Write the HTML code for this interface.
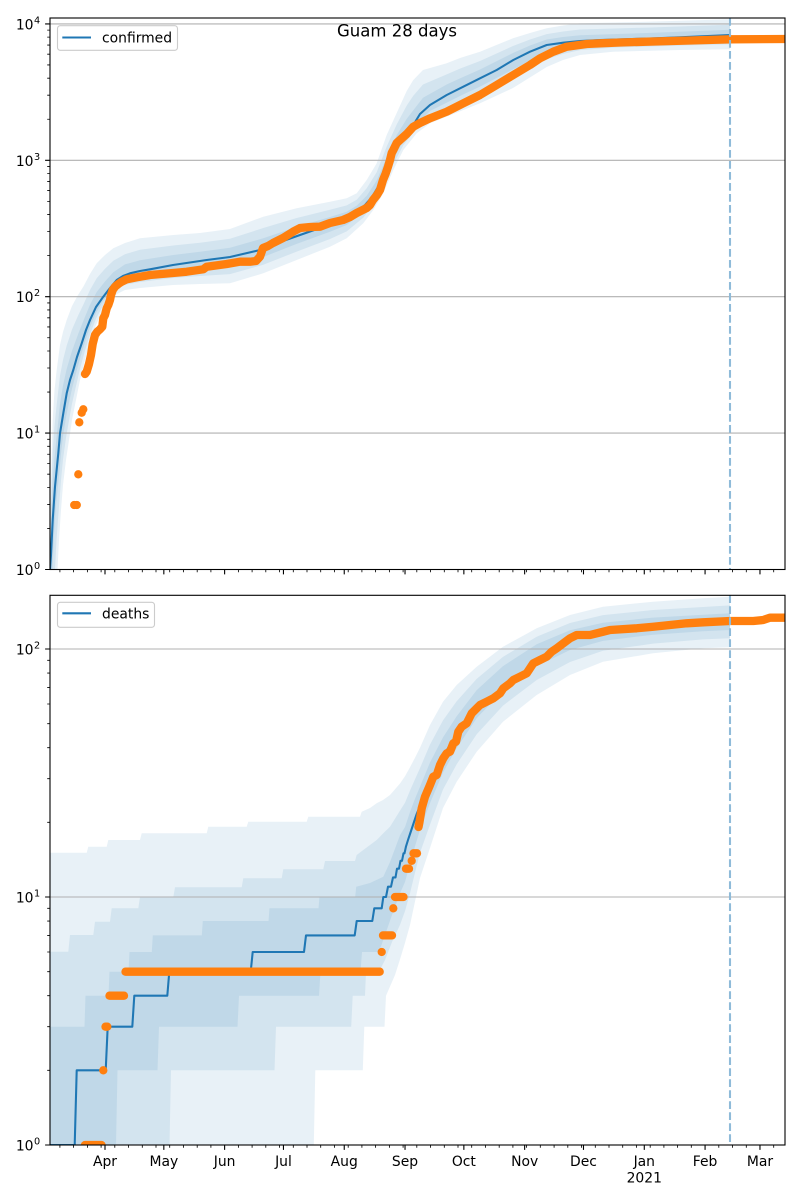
<!DOCTYPE html>
<html><head><meta charset="utf-8"><style>
html,body{margin:0;padding:0;background:#fff;}
svg{display:block;}
text{font-family:"DejaVu Sans","Liberation Sans",sans-serif;fill:#000;}
</style></head><body>
<svg width="800" height="1200" viewBox="0 0 800 1200" xmlns="http://www.w3.org/2000/svg">
<defs>
<clipPath id="ct"><rect x="50" y="18" width="735" height="551.5"/></clipPath>
<clipPath id="cb"><rect x="50" y="595.3" width="735" height="549.7"/></clipPath>
</defs>
<rect width="800" height="1200" fill="#fff"/>

<!-- ================= TOP PANEL ================= -->
<g clip-path="url(#ct)">
<g fill="#1f77b4" fill-opacity="0.1" stroke="none">
<polygon points="50,569.5 51,480 52.7,420 54.5,390 56.7,370 60,345 63,332 66.7,320 72,306 78,295 83.3,286.7 90,274 96.7,263.3 105,255 113.3,248.3 125,243 140,238.3 173.3,235 200,233 230,229 263.3,216.7 296.7,208.3 330,201.7 346.7,198.3 356.7,193.3 366.7,180 376.7,163.3 386.7,135 396.7,113 406.7,91 413.3,80 423,70 446.7,63.3 460,58 480,51.7 513,38.3 530,33 546.7,28.3 563,25.5 580,23.3 646.7,21.7 730,19.3 730,49.3 680,50 613,51.7 580,55 563,60 546.7,67 513,88 480,103.3 463.3,110 430,123.3 416.7,133.3 403.3,150 393.3,170 383.3,193.3 373.3,210 363.3,223.3 346.7,238.3 330,246.7 296.7,260 263.3,273.3 230,283.3 200,284 173,285 140,288 125,290 117,294 110,300 103,310 96,325 90,342 85,360 80,380 76,400 72,420 69,440 66,460 63,485 61,510 59,540 57.5,569.5"/>
<polygon points="50,569.5 51,502.8 52.7,451.9 54.5,425.5 56.7,404.3 60,375.8 63,360 66.7,345.6 72,329.5 78,315.7 83.3,304.7 90,290 96.7,278.3 105,268.8 113.3,260.8 125,254.2 140,249.7 173.3,245.5 200,242.8 230,238.8 263.3,228 296.7,218 330,209.7 346.7,205.4 356.7,199.7 366.7,188.3 376.7,172.3 386.7,146.5 396.7,124.5 406.7,105.6 413.3,95.8 423,84.5 446.7,74.4 460,68.6 480,61 513,46 530,39.5 546.7,34.1 563,31.5 580,29.5 646.7,27.6 730,24.8 730,44.3 680,45.6 613,47.6 580,50.1 563,53.9 546.7,59.3 513,78.3 480,94.6 463.3,101.8 430,116.9 416.7,128.5 403.3,145.3 393.3,164.2 383.3,187.4 373.3,204.8 363.3,217.6 346.7,231.4 330,239 296.7,251.6 263.3,264.8 230,274.1 200,276 173,278 140,282 125,284.8 117,289 110,295.8 103,305.5 96,318.7 90,334.3 85,350.6 80,368.8 76,386 72,403.7 69,420.4 66,437.8 63,459.5 61,480.6 59,506.4 56.5,540 55,569.5"/>
<polygon points="50,569.5 51,523.6 52.7,481 54.5,458 56.7,435.7 60,404 63,385.6 66.7,368.9 72,350.9 78,334.5 83.3,321 90,304.8 96.7,292 105,281.5 113.3,272.2 125,264.4 140,260.2 173.3,255 200,251.8 230,247.8 263.3,238.3 296.7,226.9 330,217 346.7,211.8 356.7,205.6 366.7,195.8 376.7,180.5 386.7,157.1 396.7,135.1 406.7,118.9 413.3,110.2 423,97.7 446.7,84.5 460,78.4 480,69.5 513,53 530,45.5 546.7,39.5 563,37 580,35.2 646.7,33 730,29.8 730,39.7 680,41.5 613,43.9 580,45.6 563,48.4 546.7,52.3 513,69.4 480,86.6 463.3,94.4 430,111 416.7,124 403.3,141 393.3,159 383.3,182 373.3,200 363.3,212.4 346.7,225 330,231.8 296.7,243.9 263.3,257 230,265.7 200,268.6 173,271.6 140,276.6 125,280 117,284.6 110,292 103,301.3 96,312.9 90,327.3 85,341.9 80,358.6 76,373.2 72,388.7 69,402.5 66,417.5 63,436.1 61,453.7 59,475.7 56,505 54,535 52.5,569.5"/>
</g>
<g stroke="#b0b0b0" stroke-width="1.1">
<line x1="50" y1="23.9" x2="785" y2="23.9"/>
<line x1="50" y1="160.3" x2="785" y2="160.3"/>
<line x1="50" y1="296.7" x2="785" y2="296.7"/>
<line x1="50" y1="433.1" x2="785" y2="433.1"/>
</g>
<polyline fill="none" stroke="#1f77b4" stroke-width="2.08" stroke-linejoin="round" points="50,569.5 51,555 52.7,520 55,486.7 58.3,453.3 60,433.3 63.3,413.3 66.7,393.3 70,380 73.3,370 77,357 81.7,343.3 86,330 90,320 96,307 103.3,296.7 110,288 116.7,280 123,276 130,273.3 140,271 150,269.3 173,265 206.7,260 230,257 260,250 283,241 300,235 320,228 340,221 355,213 365,205 372,197 378,187 384,175 390,160 396,147 403,137 410,129 413.3,125 420,114 430,105 446.7,95 463.3,86.7 480,78.3 496.7,70 513.3,60 530,51.7 546.7,45 563.3,42.7 580,41 600,40 650,38.5 680,37.3 730,35"/>
<g fill="#ff7f0e">
<circle cx="74.2" cy="505" r="4.15"/>
<circle cx="76.8" cy="505" r="4.15"/>
<circle cx="78.3" cy="474.3" r="4.15"/>
<circle cx="79.3" cy="422.3" r="4.15"/>
<circle cx="81.7" cy="412.7" r="4.15"/>
<circle cx="83.3" cy="409.3" r="4.15"/>
</g>
<polyline fill="none" stroke="#ff7f0e" stroke-width="8.3" stroke-linecap="round" stroke-linejoin="round" points="85,374 86.7,371.7 89,364 91,355 92.7,344 95,335 97.3,331.7 100,329.3 102.3,326.7 103.3,318.3 105,315 106.7,308.3 108.3,305 110,300 111,295 112.7,290 115,286.7 118.3,284 121.7,281.7 126.7,279.3 136.7,277.3 150,275 170,273.3 186.7,271.7 203.3,269.3 206.7,266.7 226.7,264 240,261.7 250,261.7 256,261 260,256.7 263,248 268,246 273,243 283,238 293,231.7 300,228 310,227 320,226.7 330,223 343,220 350,217 356.7,213 366.7,208 370,205 373,200 377,195 380,190 383,180 385.5,174 388,166.7 390,160 391.7,153 393.3,150 396.7,143 400,140 406.7,134 413.3,126.7 420,123 430,118.3 446.7,111.7 463.3,103.3 480,95 496.7,85 513.3,75 530,65 540,58.3 553.3,51.7 566.7,46.7 586.7,44 600,43.3 620,42.5 646.7,41.7 690,40.5 730,39.3 785,39"/>
<line x1="730" y1="18" x2="730" y2="569.5" stroke="#8fbbd9" stroke-width="2.08" stroke-dasharray="7.7 3.3"/>
</g>
<rect x="50" y="18" width="735" height="551.5" fill="none" stroke="#000" stroke-width="1.1"/>
<path stroke="#000" stroke-width="1.1" fill="none" d="M50 23.9h-4.9M50 160.3h-4.9M50 296.7h-4.9M50 433.1h-4.9M50 569.5h-4.9"/>
<path stroke="#000" stroke-width="0.83" fill="none" d="M50 528.44h-2.8M50 504.42h-2.8M50 487.38h-2.8M50 474.16h-2.8M50 463.36h-2.8M50 454.23h-2.8M50 446.32h-2.8M50 439.34h-2.8M50 392.04h-2.8M50 368.02h-2.8M50 350.98h-2.8M50 337.76h-2.8M50 326.96h-2.8M50 317.83h-2.8M50 309.92h-2.8M50 302.94h-2.8M50 255.64h-2.8M50 231.62h-2.8M50 214.58h-2.8M50 201.36h-2.8M50 190.56h-2.8M50 181.43h-2.8M50 173.52h-2.8M50 166.54h-2.8M50 119.24h-2.8M50 95.22h-2.8M50 78.18h-2.8M50 64.96h-2.8M50 54.16h-2.8M50 45.03h-2.8M50 37.12h-2.8M50 30.14h-2.8"/>
<path stroke="#000" stroke-width="1.1" fill="none" d="M105 569.5v4.9M163.83 569.5v4.9M224.62 569.5v4.9M283.45 569.5v4.9M344.24 569.5v4.9M405.03 569.5v4.9M463.86 569.5v4.9M524.65 569.5v4.9M583.48 569.5v4.9M644.28 569.5v4.9M705.07 569.5v4.9M759.97 569.5v4.9"/>
<path stroke="#000" stroke-width="0.83" fill="none" d="M59.9 569.5v2.8M73.6 569.5v2.8M87.4 569.5v2.8M101.1 569.5v2.8M114.8 569.5v2.8M128.5 569.5v2.8M142.3 569.5v2.8M156 569.5v2.8M169.7 569.5v2.8M183.4 569.5v2.8M197.2 569.5v2.8M210.9 569.5v2.8M238.4 569.5v2.8M252.1 569.5v2.8M265.8 569.5v2.8M279.5 569.5v2.8M293.3 569.5v2.8M307 569.5v2.8M320.7 569.5v2.8M334.4 569.5v2.8M348.2 569.5v2.8M361.9 569.5v2.8M375.6 569.5v2.8M389.4 569.5v2.8M403.1 569.5v2.8M416.8 569.5v2.8M430.5 569.5v2.8M444.3 569.5v2.8M458 569.5v2.8M471.7 569.5v2.8M485.4 569.5v2.8M499.2 569.5v2.8M512.9 569.5v2.8M526.6 569.5v2.8M540.3 569.5v2.8M554.1 569.5v2.8M567.8 569.5v2.8M581.5 569.5v2.8M595.3 569.5v2.8M609 569.5v2.8M622.7 569.5v2.8M636.4 569.5v2.8M650.2 569.5v2.8M663.9 569.5v2.8M677.6 569.5v2.8M691.3 569.5v2.8M718.8 569.5v2.8M732.5 569.5v2.8M746.3 569.5v2.8M773.7 569.5v2.8"/>
<g font-size="13.9">
<text x="33.5" y="29.4" text-anchor="end">10</text><text x="34" y="23.4" font-size="9.7">4</text>
<text x="33.5" y="165.8" text-anchor="end">10</text><text x="34" y="159.8" font-size="9.7">3</text>
<text x="33.5" y="302.2" text-anchor="end">10</text><text x="34" y="296.2" font-size="9.7">2</text>
<text x="33.5" y="438.6" text-anchor="end">10</text><text x="34" y="432.6" font-size="9.7">1</text>
<text x="33.5" y="575" text-anchor="end">10</text><text x="34" y="569" font-size="9.7">0</text>
</g>
<rect x="57.5" y="25.7" width="120" height="24.6" rx="2.8" ry="2.8" fill="#fff" fill-opacity="0.8" stroke="#cccccc" stroke-width="1.1"/>
<line x1="62.3" y1="37.5" x2="91" y2="37.5" stroke="#1f77b4" stroke-width="2.08"/>
<text x="102" y="42.5" font-size="13.9">confirmed</text>
<text x="397" y="36.5" font-size="16.4" text-anchor="middle" textLength="120" lengthAdjust="spacingAndGlyphs">Guam 28 days</text>

<!-- ================= BOTTOM PANEL ================= -->
<g clip-path="url(#cb)">
<g fill="#1f77b4" fill-opacity="0.1" stroke="none">
<polygon points="50,852.7 86.7,852.7 88.3,846.7 106.7,846.7 108.3,840 140,840 141.7,833.3 206.7,833.3 208.3,826.7 246.7,826.7 248.3,821.7 306.7,821.7 308.3,816.7 360,816.7 361.7,811.7 370,808 377,803 383,800 390,795 400,783.5 405,776.3 410,767.2 415,757.7 420,747.7 430,725 443,701.7 456.7,685 476.7,666.7 503,646.8 536.7,628.3 570,615 603,606.7 653,601.7 703,598.3 730,596.7 730,647.3 703,648.3 653,653.3 603,661.7 570,675 536.7,695 503,721.7 476.7,751.7 456.7,781.7 443,808 430,848 420,878 415,901.5 410,925 405,942.9 400,959.4 395,975 386,995.7 384.5,1026.7 364.3,1026.7 362.8,1070.3 315.3,1070.3 313.8,1145 50,1145"/>
<polygon points="50,951.7 68.3,951.7 70,935 93.3,935 95,921.7 110,921.7 111.7,908.3 138.3,908.3 140,897.3 173.3,897.3 175,887.3 241.7,887.3 243.3,878.3 281.7,878.3 283.3,869.3 323.3,869.3 325,861 355,861 356.7,855 363.3,850 370,845 376.7,840 383.3,833.3 390,826.7 400,810.6 405,802.8 410,790.6 415,779.2 420,768.1 430,744.6 443,720.4 456.7,701.3 476.7,678.9 503,656.9 536.7,636.7 570,623 603,615.1 653,610 703,607 730,605.4 730,638.3 703,639.4 653,643.6 603,650.8 570,662 536.7,680 503,705.6 476.7,734.2 456.7,764.2 443,789.5 430,824.6 420,852.8 415,872.6 410,893.2 405,911.1 400,924.9 392,942 385,960 379,971.7 366,971.7 365,995.7 352.7,995.7 351.2,1026.7 276,1026.7 274.5,1070.3 171,1070.3 169.5,1145 50,1145"/>
<polygon points="50,1026.7 84.5,1026.7 85.5,995.7 108.5,995.7 109.5,971.7 128.5,971.7 129.5,952 151.8,952 152.8,935.4 201.8,935.4 202.8,921 268.5,921 269.5,908.3 318.5,908.3 319.5,897 355.2,897 356.2,886.7 370,883 383.3,876.7 390,862 400,835.3 405,827 410,812 415,798.8 420,786.8 430,762.5 443,737.4 456.7,716.2 476.7,690.1 503,666.1 536.7,644.3 570,630.2 603,622.7 653,617.6 703,614.8 730,613.3 730,630 703,631.3 653,634.7 603,640.9 570,650 536.7,666.3 503,690.8 476.7,718.1 456.7,748.1 443,772.5 430,803.1 420,829.8 415,846.2 410,864 405,882 400,893.3 392,915 385,935 379,952 362,952 360.5,971.7 320.5,971.7 319,995.7 239,995.7 237.5,1026.7 159,1026.7 157.5,1070.3 117.5,1070.3 116,1145 50,1145"/>
</g>
<g stroke="#b0b0b0" stroke-width="1.1">
<line x1="50" y1="649" x2="785" y2="649"/>
<line x1="50" y1="897" x2="785" y2="897"/>
</g>
<path fill="none" stroke="#1f77b4" stroke-width="2.08" stroke-linejoin="round" d="M50,1145 H74.7 L76.7,1070.3 H105.7 L107.7,1026.7 H132.3 L134.3,995.7 H167.3 L169.3,971.7 H250.7 L252.7,952 H304 L306,935.4 H354.7 L356.7,921 H372.3 L374.3,908.3 H381.7 L383.3,897 H386 L388,886.7 H391 L393,877.4 H395.5 L397,868.7 H399 L400.5,860.8 H402 L403.5,853.3 H404.5 L406,846.4 L408,840 L410,834 L412,828 L414,822 L416.7,814 L420,806 L424,797 L428,788 L432,779 L436,771 L440,763 L445,753 L450,745 L455,737 L460,728 L466,720 L472,712 L478,706 L485,701 L493,696 L500,691 L508,685 L515,679 L522,675 L530,669 L538,662 L546,656 L554,650 L562,644 L570,639 L578,635 L590,633.5 L605,631 L620,629.5 L640,627.5 L660,626 L690,624 L730,621.5"/>
<g fill="none" stroke="#ff7f0e" stroke-width="8.3" stroke-linecap="round" stroke-linejoin="round">
<path d="M85,1145 H101.5"/>
<path d="M103.3,1070.3 h0.01"/>
<path d="M105.5,1026.7 H107.3"/>
<path d="M109.5,995.7 H124"/>
<path d="M125.5,971.7 H379.7"/>
<path d="M381.7,952 h0.01"/>
<path d="M383,935.4 H392"/>
<path d="M393.3,908.3 h0.01"/>
<path d="M395,897 H403.5"/>
<path d="M406,868.7 H409"/>
<path d="M411.7,860.8 h0.01"/>
<path d="M413.5,853.3 H417"/>
<polyline points="418.5,827 419.5,822 421.7,808.3 425,796.7 430,785 433.3,776.7 436.7,775 440,765 443.3,758.3 446.7,753.3 450,751.7 453.3,743.3 456,741.7 458.3,731.7 461.7,726.7 466.7,723.3 471.7,713.3 476.7,708.3 480,705 486.7,701.7 493.3,698.3 500,693.3 503.3,688.3 510,683.3 513.3,680 520,676.7 526.7,673.3 530,668.3 533.3,663.3 540,660 546.7,656.7 551.7,651.7 556.7,648.3 563.3,643.3 570,638.3 576.7,635 590,635 603.3,631.7 610,630 636.7,628.3 653.3,626.7 686.7,623.3 703.3,622.3 730,621 753.3,621 763.3,620 770,617.7 785,617.7"/>
</g>
<line x1="730" y1="595.3" x2="730" y2="1145" stroke="#8fbbd9" stroke-width="2.08" stroke-dasharray="7.7 3.3"/>
</g>
<rect x="50" y="595.3" width="735" height="549.7" fill="none" stroke="#000" stroke-width="1.1"/>
<path stroke="#000" stroke-width="1.1" fill="none" d="M50 649h-4.9M50 897h-4.9M50 1145h-4.9"/>
<path stroke="#000" stroke-width="0.83" fill="none" d="M50 1070.34h-2.8M50 1026.67h-2.8M50 995.69h-2.8M50 971.66h-2.8M50 952.02h-2.8M50 935.42h-2.8M50 921.03h-2.8M50 908.35h-2.8M50 822.34h-2.8M50 778.67h-2.8M50 747.69h-2.8M50 723.66h-2.8M50 704.02h-2.8M50 687.42h-2.8M50 673.03h-2.8M50 660.35h-2.8"/>
<path stroke="#000" stroke-width="1.1" fill="none" d="M105 1145v4.9M163.83 1145v4.9M224.62 1145v4.9M283.45 1145v4.9M344.24 1145v4.9M405.03 1145v4.9M463.86 1145v4.9M524.65 1145v4.9M583.48 1145v4.9M644.28 1145v4.9M705.07 1145v4.9M759.97 1145v4.9"/>
<path stroke="#000" stroke-width="0.83" fill="none" d="M59.9 1145v2.8M73.6 1145v2.8M87.4 1145v2.8M101.1 1145v2.8M114.8 1145v2.8M128.5 1145v2.8M142.3 1145v2.8M156 1145v2.8M169.7 1145v2.8M183.4 1145v2.8M197.2 1145v2.8M210.9 1145v2.8M238.4 1145v2.8M252.1 1145v2.8M265.8 1145v2.8M279.5 1145v2.8M293.3 1145v2.8M307 1145v2.8M320.7 1145v2.8M334.4 1145v2.8M348.2 1145v2.8M361.9 1145v2.8M375.6 1145v2.8M389.4 1145v2.8M403.1 1145v2.8M416.8 1145v2.8M430.5 1145v2.8M444.3 1145v2.8M458 1145v2.8M471.7 1145v2.8M485.4 1145v2.8M499.2 1145v2.8M512.9 1145v2.8M526.6 1145v2.8M540.3 1145v2.8M554.1 1145v2.8M567.8 1145v2.8M581.5 1145v2.8M595.3 1145v2.8M609 1145v2.8M622.7 1145v2.8M636.4 1145v2.8M650.2 1145v2.8M663.9 1145v2.8M677.6 1145v2.8M691.3 1145v2.8M718.8 1145v2.8M732.5 1145v2.8M746.3 1145v2.8M773.7 1145v2.8"/>
<g font-size="13.9">
<text x="33.5" y="654.5" text-anchor="end">10</text><text x="34" y="648.5" font-size="9.7">2</text>
<text x="33.5" y="902.5" text-anchor="end">10</text><text x="34" y="896.5" font-size="9.7">1</text>
<text x="33.5" y="1150.5" text-anchor="end">10</text><text x="34" y="1144.5" font-size="9.7">0</text>
</g>
<g font-size="13.9" text-anchor="middle">
<text x="105" y="1166">Apr</text>
<text x="163.83" y="1166">May</text>
<text x="224.62" y="1166">Jun</text>
<text x="283.45" y="1166">Jul</text>
<text x="344.24" y="1166">Aug</text>
<text x="405.03" y="1166">Sep</text>
<text x="463.86" y="1166">Oct</text>
<text x="524.65" y="1166">Nov</text>
<text x="583.48" y="1166">Dec</text>
<text x="644.28" y="1166">Jan</text>
<text x="644.28" y="1182.5">2021</text>
<text x="705.07" y="1166">Feb</text>
<text x="759.97" y="1166">Mar</text>
</g>
<rect x="57.5" y="602.3" width="97" height="25" rx="2.8" ry="2.8" fill="#fff" fill-opacity="0.8" stroke="#cccccc" stroke-width="1.1"/>
<line x1="62.3" y1="613.3" x2="91" y2="613.3" stroke="#1f77b4" stroke-width="2.08"/>
<text x="102" y="618.5" font-size="13.9">deaths</text>
</svg>
</body></html>
